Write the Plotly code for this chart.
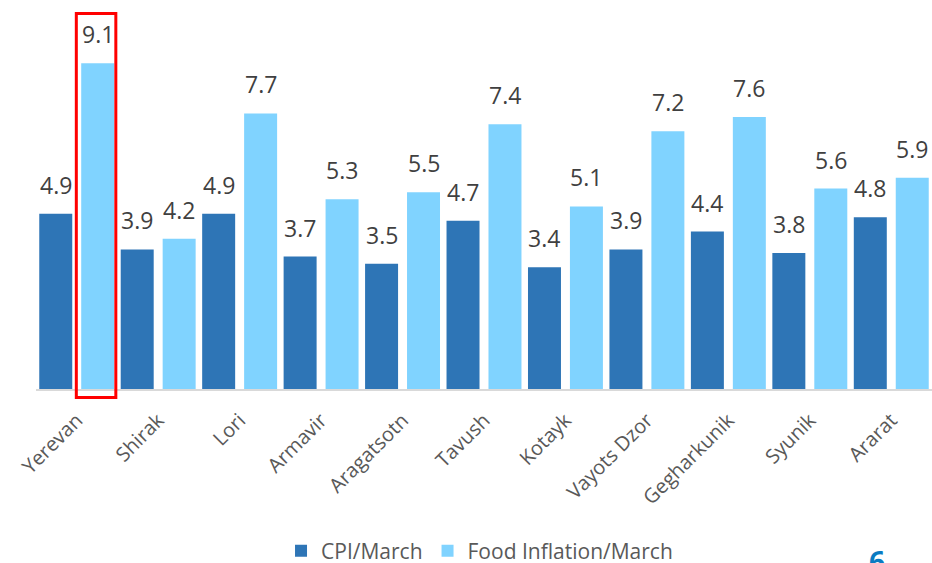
import plotly.graph_objects as go

regions = ["Yerevan", "Shirak", "Lori", "Armavir", "Aragatsotn", "Tavush",
           "Kotayk", "Vayots Dzor", "Gegharkunik", "Syunik", "Ararat"]
cpi_march = [4.9, 3.9, 4.9, 3.7, 3.5, 4.7, 3.4, 3.9, 4.4, 3.8, 4.8]
food_march = [9.1, 4.2, 7.7, 5.3, 5.5, 7.4, 5.1, 7.2, 7.6, 5.6, 5.9]
highlight_index = 0

CPI_COLOR = "#2E75B6"
FOOD_COLOR = "#80D3FF"
TEXT_COLOR = "#404040"
AXIS_TEXT = "#595959"
FONT = "Open Sans"

BAR_W = 0.405
CPI_OFF = -0.46
FOOD_OFF = 0.055

# full-window figure (body margin removed below)
W, H = 932, 563
L, T = 36, 10
AXIS_Y = 389
PLOT_H = AXIS_Y - T
PLOT_W = W - L

xs = list(range(len(regions)))

fig = go.Figure()
fig.add_trace(go.Bar(
    name="CPI/March", x=xs, y=cpi_march, width=BAR_W, offset=CPI_OFF,
    marker=dict(color=CPI_COLOR, line=dict(width=0)),
))
fig.add_trace(go.Bar(
    name="Food Inflation/March", x=xs, y=food_march, width=BAR_W, offset=FOOD_OFF,
    marker=dict(color=FOOD_COLOR, line=dict(width=0)),
))

annotations = []
for i, (c, f) in enumerate(zip(cpi_march, food_march)):
    for val, off in ((c, CPI_OFF), (f, FOOD_OFF)):
        annotations.append(dict(
            x=i + off + BAR_W / 2, y=val, xref="x", yref="y",
            text=f"{val:.1f}", showarrow=False, yanchor="bottom", yshift=11,
            font=dict(family=FONT, size=23, color=TEXT_COLOR),
        ))

# page number
annotations.append(dict(
    x=(877 - L) / PLOT_W, y=(AXIS_Y - 540) / PLOT_H, xref="paper", yref="paper",
    text="<b>6</b>", showarrow=False, xanchor="center", yanchor="top",
    font=dict(family=FONT, size=28, color="#0A7BC2"),
))

shapes = [dict(
    type="rect", xref="x", yref="paper",
    x0=highlight_index + FOOD_OFF - 0.06, x1=highlight_index + FOOD_OFF + BAR_W + 0.02,
    y0=-8.5 / PLOT_H, y1=(PLOT_H - 3.5) / PLOT_H,
    line=dict(color="#FF0000", width=3), fillcolor="rgba(0,0,0,0)",
    layer="above",
)]

fig.update_layout(
    width=W, height=H,
    margin=dict(l=L, r=0, t=T, b=H - AXIS_Y, pad=0, autoexpand=False),
    paper_bgcolor="white", plot_bgcolor="white",
    barmode="overlay",
    showlegend=True,
    legend=dict(
        orientation="h", x=0.495, xanchor="center",
        yref="container", y=(H - 551) / H, yanchor="middle",
        font=dict(family=FONT, size=21, color=AXIS_TEXT),
        traceorder="normal", itemwidth=30,
    ),
    annotations=annotations,
    shapes=shapes,
    font=dict(family=FONT),
)
fig.update_xaxes(
    tickmode="array", tickvals=xs, ticktext=regions,
    range=[-0.5, len(regions) - 0.5],
    tickangle=-45, tickfont=dict(family=FONT, size=20, color=AXIS_TEXT),
    showline=True, linecolor="#D9D9D9", linewidth=1.5,
    showgrid=False, zeroline=False, ticks="", ticklabelstandoff=10,
    automargin=False,
)
fig.update_yaxes(
    range=[0, 10.59], showgrid=False, zeroline=False, showline=False,
    showticklabels=False, ticks="", automargin=False,
)

fig.write_html(
    "out.html",
    config={"displayModeBar": False},
    post_script="document.body.style.margin='0';"
                "document.documentElement.style.overflow='hidden';"
                "document.body.style.overflow='hidden';",
)
